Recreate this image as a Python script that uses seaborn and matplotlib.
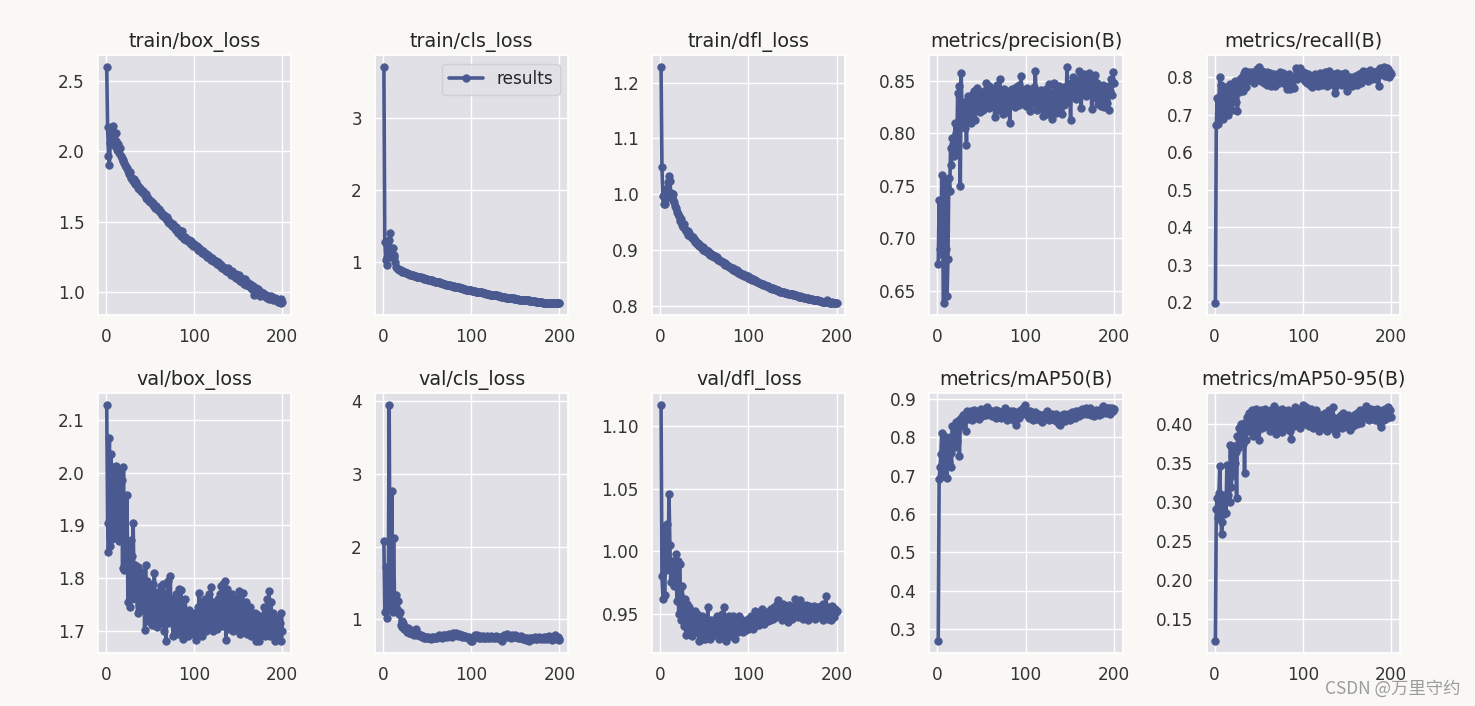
import matplotlib
matplotlib.use("Agg")
import matplotlib.pyplot as plt
import seaborn as sns

# epochs on the x axis
epochs = list(range(1, 201))

train_box_loss = [
    2.60, 2.17, 1.97, 1.90, 2.06, 2.15, 2.11, 2.18, 2.09, 2.04, 2.13, 2.07, 2.01, 2.05, 1.99, 2.02, 1.97, 1.95, 1.93, 1.94,
    1.92, 1.90, 1.89, 1.88, 1.86, 1.84, 1.85, 1.81, 1.82, 1.80, 1.79, 1.80, 1.77, 1.78, 1.76, 1.74, 1.75, 1.73, 1.74, 1.72,
    1.71, 1.72, 1.70, 1.69, 1.70, 1.67, 1.66, 1.67, 1.65, 1.64, 1.65, 1.63, 1.62, 1.63, 1.61, 1.60, 1.61, 1.59, 1.58, 1.59,
    1.57, 1.56, 1.57, 1.55, 1.54, 1.55, 1.53, 1.52, 1.53, 1.51, 1.50, 1.49, 1.50, 1.48, 1.47, 1.48, 1.46, 1.45, 1.46, 1.44,
    1.43, 1.42, 1.44, 1.41, 1.40, 1.43, 1.39, 1.40, 1.38, 1.39, 1.37, 1.38, 1.36, 1.37, 1.35, 1.36, 1.34, 1.35, 1.33, 1.34,
    1.33, 1.32, 1.33, 1.31, 1.30, 1.31, 1.29, 1.30, 1.28, 1.29, 1.27, 1.28, 1.26, 1.27, 1.25, 1.26, 1.24, 1.25, 1.23, 1.24,
    1.23, 1.22, 1.23, 1.21, 1.22, 1.20, 1.21, 1.19, 1.20, 1.18, 1.19, 1.17, 1.18, 1.16, 1.17, 1.15, 1.16, 1.14, 1.17, 1.15,
    1.14, 1.12, 1.15, 1.13, 1.12, 1.11, 1.13, 1.10, 1.11, 1.09, 1.12, 1.08, 1.10, 1.07, 1.09, 1.08, 1.06, 1.09, 1.05, 1.07,
    1.06, 1.04, 1.06, 1.03, 1.05, 1.02, 1.04, 0.98, 1.01, 1.03, 1.00, 1.02, 0.99, 1.01, 0.97, 1.00, 0.98, 0.99, 0.97, 0.98,
    0.97, 0.98, 0.96, 0.97, 0.95, 0.96, 0.97, 0.95, 0.96, 0.94, 0.95, 0.96, 0.94, 0.95, 0.93, 0.94, 0.93, 0.95, 0.92, 0.93,
]

train_cls_loss = [
    3.72, 1.28, 1.02, 1.06, 0.96, 1.12, 1.30, 1.40, 1.16, 1.06, 1.19, 1.10, 1.07, 0.99, 0.93, 0.91, 0.90, 0.89, 0.88, 0.88,
    0.87, 0.86, 0.86, 0.85, 0.85, 0.84, 0.84, 0.83, 0.83, 0.83, 0.82, 0.82, 0.81, 0.81, 0.80, 0.80, 0.80, 0.79, 0.79, 0.79,
    0.78, 0.78, 0.78, 0.77, 0.77, 0.77, 0.76, 0.76, 0.76, 0.76, 0.75, 0.75, 0.74, 0.74, 0.74, 0.73, 0.73, 0.73, 0.72, 0.72,
    0.72, 0.71, 0.71, 0.71, 0.70, 0.70, 0.70, 0.69, 0.69, 0.69, 0.68, 0.68, 0.68, 0.67, 0.67, 0.67, 0.66, 0.66, 0.66, 0.66,
    0.65, 0.65, 0.65, 0.64, 0.64, 0.64, 0.63, 0.63, 0.63, 0.63, 0.62, 0.62, 0.62, 0.61, 0.61, 0.61, 0.61, 0.60, 0.60, 0.60,
    0.59, 0.59, 0.59, 0.59, 0.58, 0.58, 0.58, 0.58, 0.57, 0.57, 0.57, 0.57, 0.56, 0.56, 0.56, 0.56, 0.55, 0.55, 0.55, 0.55,
    0.54, 0.54, 0.54, 0.54, 0.53, 0.53, 0.53, 0.53, 0.53, 0.52, 0.52, 0.52, 0.52, 0.51, 0.51, 0.51, 0.51, 0.51, 0.50, 0.50,
    0.50, 0.50, 0.50, 0.49, 0.49, 0.49, 0.49, 0.49, 0.48, 0.48, 0.48, 0.48, 0.48, 0.47, 0.47, 0.47, 0.47, 0.47, 0.47, 0.46,
    0.46, 0.46, 0.46, 0.46, 0.46, 0.45, 0.45, 0.45, 0.45, 0.45, 0.45, 0.45, 0.44, 0.44, 0.44, 0.44, 0.44, 0.44, 0.44, 0.44,
    0.43, 0.43, 0.43, 0.43, 0.43, 0.43, 0.43, 0.43, 0.42, 0.42, 0.42, 0.43, 0.42, 0.42, 0.42, 0.42, 0.42, 0.42, 0.42, 0.42,
]

train_dfl_loss = [
    1.228, 1.048, 0.997, 0.982, 0.990, 0.983, 1.000, 1.012, 1.022, 1.033, 1.024, 1.002, 0.995, 1.001, 0.990, 0.986, 0.979, 0.975, 0.968, 0.965,
    0.962, 0.958, 0.952, 0.955, 0.945, 0.942, 0.946, 0.938, 0.935, 0.932, 0.934, 0.928, 0.930, 0.925, 0.926, 0.921, 0.923, 0.918, 0.919, 0.915,
    0.914, 0.911, 0.912, 0.908, 0.909, 0.906, 0.904, 0.905, 0.901, 0.902, 0.899, 0.900, 0.897, 0.898, 0.894, 0.895, 0.892, 0.893, 0.890, 0.891,
    0.888, 0.889, 0.886, 0.887, 0.884, 0.882, 0.883, 0.880, 0.881, 0.878, 0.879, 0.876, 0.877, 0.874, 0.873, 0.874, 0.871, 0.870, 0.869, 0.868,
    0.867, 0.868, 0.865, 0.866, 0.863, 0.862, 0.864, 0.860, 0.861, 0.858, 0.859, 0.857, 0.856, 0.857, 0.854, 0.855, 0.853, 0.852, 0.853, 0.851,
    0.850, 0.849, 0.850, 0.847, 0.848, 0.846, 0.845, 0.846, 0.844, 0.843, 0.843, 0.842, 0.841, 0.840, 0.840, 0.839, 0.838, 0.837, 0.837, 0.836,
    0.835, 0.835, 0.834, 0.833, 0.833, 0.832, 0.831, 0.832, 0.830, 0.830, 0.829, 0.828, 0.829, 0.827, 0.827, 0.826, 0.825, 0.826, 0.825, 0.825,
    0.824, 0.824, 0.823, 0.823, 0.822, 0.822, 0.821, 0.822, 0.821, 0.821, 0.820, 0.820, 0.819, 0.819, 0.818, 0.818, 0.817, 0.818, 0.817, 0.817,
    0.816, 0.816, 0.815, 0.815, 0.814, 0.814, 0.814, 0.813, 0.813, 0.813, 0.812, 0.812, 0.811, 0.811, 0.811, 0.810, 0.810, 0.810, 0.810, 0.809,
    0.809, 0.809, 0.808, 0.808, 0.808, 0.808, 0.807, 0.807, 0.810, 0.808, 0.807, 0.806, 0.806, 0.806, 0.807, 0.805, 0.806, 0.805, 0.806, 0.805,
]

precision = [
    0.675, 0.736, 0.690, 0.685, 0.760, 0.700, 0.638, 0.720, 0.755, 0.690, 0.645, 0.680, 0.757, 0.745, 0.786, 0.770, 0.795, 0.790, 0.778, 0.810,
    0.800, 0.780, 0.838, 0.805, 0.845, 0.750, 0.857, 0.820, 0.810, 0.830, 0.805, 0.820, 0.789, 0.825, 0.835, 0.815, 0.828, 0.810, 0.836, 0.822,
    0.830, 0.840, 0.812, 0.835, 0.843, 0.826, 0.832, 0.820, 0.838, 0.829, 0.836, 0.822, 0.840, 0.831, 0.848, 0.827, 0.835, 0.845, 0.824, 0.838,
    0.830, 0.842, 0.826, 0.836, 0.815, 0.839, 0.828, 0.846, 0.822, 0.834, 0.851, 0.829, 0.838, 0.818, 0.835, 0.842, 0.826, 0.837, 0.820, 0.833,
    0.840, 0.810, 0.835, 0.828, 0.842, 0.831, 0.838, 0.825, 0.844, 0.832, 0.836, 0.827, 0.846, 0.830, 0.854, 0.835, 0.829, 0.841, 0.833, 0.838,
    0.826, 0.843, 0.832, 0.837, 0.821, 0.840, 0.830, 0.835, 0.844, 0.828, 0.859, 0.834, 0.822, 0.839, 0.830, 0.836, 0.825, 0.841, 0.831, 0.816,
    0.834, 0.826, 0.842, 0.818, 0.836, 0.829, 0.847, 0.822, 0.838, 0.813, 0.833, 0.848, 0.825, 0.836, 0.819, 0.840, 0.828, 0.845, 0.822, 0.835,
    0.818, 0.838, 0.827, 0.844, 0.830, 0.836, 0.863, 0.832, 0.845, 0.838, 0.812, 0.848, 0.836, 0.853, 0.840, 0.846, 0.832, 0.850, 0.842, 0.837,
    0.859, 0.845, 0.824, 0.850, 0.838, 0.856, 0.842, 0.848, 0.835, 0.852, 0.844, 0.857, 0.838, 0.849, 0.823, 0.846, 0.853, 0.840, 0.855, 0.833,
    0.848, 0.828, 0.844, 0.836, 0.826, 0.840, 0.830, 0.846, 0.825, 0.838, 0.843, 0.829, 0.836, 0.822, 0.845, 0.840, 0.851, 0.836, 0.858, 0.848,
]

recall = [
    0.198, 0.672, 0.745, 0.675, 0.748, 0.800, 0.780, 0.705, 0.735, 0.688, 0.760, 0.720, 0.775, 0.740, 0.700, 0.765, 0.730, 0.782, 0.745, 0.712,
    0.770, 0.755, 0.790, 0.735, 0.778, 0.710, 0.785, 0.760, 0.795, 0.770, 0.800, 0.765, 0.812, 0.790, 0.818, 0.775, 0.805, 0.792, 0.815, 0.798,
    0.808, 0.790, 0.815, 0.800, 0.785, 0.810, 0.796, 0.822, 0.805, 0.828, 0.798, 0.812, 0.790, 0.818, 0.803, 0.786, 0.810, 0.795, 0.815, 0.780,
    0.805, 0.792, 0.812, 0.778, 0.800, 0.788, 0.808, 0.795, 0.776, 0.802, 0.790, 0.810, 0.785, 0.815, 0.798, 0.806, 0.788, 0.812, 0.794, 0.783,
    0.800, 0.770, 0.795, 0.808, 0.785, 0.768, 0.790, 0.780, 0.802, 0.772, 0.798, 0.826, 0.810, 0.795, 0.820, 0.805, 0.826, 0.812, 0.798, 0.815,
    0.805, 0.790, 0.812, 0.798, 0.785, 0.808, 0.795, 0.780, 0.802, 0.790, 0.775, 0.800, 0.788, 0.810, 0.782, 0.797, 0.776, 0.805, 0.790, 0.812,
    0.795, 0.780, 0.808, 0.792, 0.815, 0.786, 0.800, 0.778, 0.805, 0.818, 0.790, 0.810, 0.795, 0.782, 0.808, 0.775, 0.758, 0.790, 0.812, 0.798,
    0.805, 0.788, 0.810, 0.795, 0.780, 0.800, 0.785, 0.812, 0.792, 0.765, 0.775, 0.795, 0.782, 0.800, 0.790, 0.778, 0.798, 0.785, 0.803, 0.792,
    0.780, 0.800, 0.790, 0.808, 0.795, 0.785, 0.805, 0.818, 0.800, 0.812, 0.795, 0.815, 0.802, 0.790, 0.810, 0.820, 0.805, 0.795, 0.812, 0.800,
    0.815, 0.808, 0.795, 0.818, 0.805, 0.778, 0.812, 0.825, 0.808, 0.820, 0.815, 0.828, 0.805, 0.818, 0.826, 0.810, 0.822, 0.800, 0.815, 0.808,
]

val_box_loss = [
    2.128, 1.905, 1.850, 2.065, 1.862, 2.035, 1.875, 2.010, 1.930, 2.000, 1.880, 2.012, 1.945, 1.990, 1.870, 2.005, 1.930, 1.985, 1.820, 2.010,
    1.815, 1.955, 1.820, 1.957, 1.755, 1.870, 1.745, 1.872, 1.760, 1.842, 1.905, 1.770, 1.825, 1.760, 1.810, 1.735, 1.822, 1.750, 1.800, 1.740,
    1.812, 1.760, 1.790, 1.703, 1.825, 1.745, 1.795, 1.720, 1.780, 1.735, 1.772, 1.712, 1.790, 1.740, 1.810, 1.720, 1.765, 1.708, 1.775, 1.730,
    1.760, 1.715, 1.785, 1.735, 1.790, 1.700, 1.770, 1.681, 1.760, 1.795, 1.715, 1.745, 1.805, 1.725, 1.760, 1.690, 1.755, 1.705, 1.770, 1.720,
    1.745, 1.695, 1.780, 1.710, 1.778, 1.700, 1.740, 1.685, 1.735, 1.760, 1.705, 1.725, 1.690, 1.740, 1.710, 1.730, 1.700, 1.720, 1.695, 1.735,
    1.710, 1.684, 1.725, 1.695, 1.745, 1.773, 1.700, 1.755, 1.690, 1.740, 1.715, 1.760, 1.700, 1.730, 1.745, 1.705, 1.770, 1.720, 1.783, 1.710,
    1.745, 1.700, 1.755, 1.725, 1.740, 1.705, 1.760, 1.715, 1.770, 1.735, 1.785, 1.710, 1.790, 1.735, 1.795, 1.684, 1.780, 1.720, 1.760, 1.705,
    1.745, 1.715, 1.770, 1.700, 1.740, 1.725, 1.760, 1.705, 1.750, 1.730, 1.776, 1.695, 1.755, 1.720, 1.773, 1.700, 1.740, 1.715, 1.755, 1.695,
    1.735, 1.710, 1.745, 1.690, 1.730, 1.705, 1.725, 1.700, 1.735, 1.681, 1.720, 1.700, 1.730, 1.681, 1.715, 1.695, 1.725, 1.700, 1.745, 1.690,
    1.740, 1.710, 1.760, 1.700, 1.776, 1.690, 1.755, 1.705, 1.735, 1.695, 1.720, 1.681, 1.710, 1.700, 1.725, 1.690, 1.715, 1.681, 1.735, 1.700,
]

val_cls_loss = [
    2.080, 1.100, 1.720, 1.550, 1.020, 1.350, 3.950, 1.150, 1.250, 2.770, 1.100, 2.120, 1.300, 1.200, 1.330, 1.150, 1.250, 1.080, 1.100, 0.920,
    0.980, 0.900, 0.950, 0.870, 0.900, 0.860, 0.830, 0.880, 0.840, 0.810, 0.820, 0.850, 0.800, 0.830, 0.790, 0.810, 0.870, 0.820, 0.780, 0.800,
    0.790, 0.770, 0.780, 0.760, 0.775, 0.750, 0.765, 0.740, 0.755, 0.745, 0.760, 0.740, 0.750, 0.735, 0.755, 0.745, 0.760, 0.750, 0.740, 0.765,
    0.750, 0.770, 0.755, 0.790, 0.760, 0.775, 0.750, 0.780, 0.765, 0.790, 0.770, 0.760, 0.785, 0.770, 0.800, 0.775, 0.790, 0.765, 0.810, 0.780,
    0.800, 0.785, 0.815, 0.790, 0.775, 0.795, 0.780, 0.770, 0.790, 0.765, 0.775, 0.760, 0.770, 0.755, 0.765, 0.745, 0.760, 0.740, 0.720, 0.700,
    0.710, 0.740, 0.760, 0.780, 0.770, 0.755, 0.780, 0.765, 0.750, 0.770, 0.745, 0.765, 0.775, 0.750, 0.760, 0.740, 0.755, 0.770, 0.750, 0.760,
    0.745, 0.770, 0.755, 0.765, 0.740, 0.760, 0.750, 0.775, 0.755, 0.740, 0.760, 0.745, 0.730, 0.755, 0.710, 0.760, 0.790, 0.775, 0.760, 0.795,
    0.770, 0.780, 0.760, 0.775, 0.750, 0.785, 0.765, 0.770, 0.755, 0.780, 0.760, 0.775, 0.745, 0.765, 0.750, 0.770, 0.740, 0.755, 0.735, 0.750,
    0.740, 0.720, 0.745, 0.730, 0.710, 0.735, 0.750, 0.730, 0.745, 0.725, 0.740, 0.755, 0.735, 0.750, 0.730, 0.745, 0.760, 0.740, 0.725, 0.750,
    0.740, 0.755, 0.730, 0.745, 0.760, 0.735, 0.750, 0.770, 0.745, 0.730, 0.715, 0.740, 0.725, 0.760, 0.780, 0.745, 0.730, 0.755, 0.720, 0.735,
]

val_dfl_loss = [
    1.117, 0.980, 0.962, 1.020, 0.965, 1.012, 0.985, 1.022, 0.990, 1.046, 1.005, 0.975, 0.992, 0.978, 0.988, 0.972, 0.985, 0.998, 0.960, 0.992,
    0.950, 0.990, 0.965, 0.945, 0.972, 0.952, 0.940, 0.962, 0.933, 0.958, 0.945, 0.935, 0.955, 0.940, 0.950, 0.932, 0.948, 0.938, 0.952, 0.942,
    0.935, 0.950, 0.940, 0.928, 0.945, 0.935, 0.948, 0.930, 0.942, 0.938, 0.930, 0.945, 0.935, 0.955, 0.932, 0.940, 0.930, 0.945, 0.937, 0.942,
    0.933, 0.945, 0.938, 0.948, 0.935, 0.942, 0.930, 0.945, 0.938, 0.950, 0.935, 0.955, 0.930, 0.942, 0.928, 0.945, 0.935, 0.948, 0.932, 0.940,
    0.945, 0.935, 0.948, 0.938, 0.930, 0.946, 0.940, 0.935, 0.948, 0.936, 0.942, 0.938, 0.945, 0.935, 0.940, 0.944, 0.937, 0.942, 0.946, 0.938,
    0.944, 0.940, 0.948, 0.942, 0.938, 0.945, 0.952, 0.940, 0.946, 0.943, 0.950, 0.941, 0.947, 0.944, 0.954, 0.945, 0.948, 0.942, 0.950, 0.946,
    0.948, 0.944, 0.952, 0.947, 0.945, 0.954, 0.949, 0.946, 0.955, 0.950, 0.947, 0.958, 0.952, 0.961, 0.948, 0.956, 0.950, 0.945, 0.958, 0.952,
    0.949, 0.955, 0.946, 0.953, 0.943, 0.957, 0.950, 0.954, 0.946, 0.952, 0.948, 0.956, 0.962, 0.950, 0.955, 0.947, 0.958, 0.951, 0.961, 0.948,
    0.953, 0.946, 0.955, 0.950, 0.957, 0.948, 0.952, 0.945, 0.956, 0.950, 0.947, 0.954, 0.949, 0.956, 0.951, 0.946, 0.953, 0.948, 0.955, 0.950,
    0.947, 0.956, 0.950, 0.945, 0.958, 0.952, 0.948, 0.964, 0.950, 0.946, 0.955, 0.949, 0.953, 0.945, 0.956, 0.950, 0.947, 0.954, 0.951, 0.952,
]

map50 = [
    0.268, 0.692, 0.724, 0.757, 0.812, 0.700, 0.745, 0.805, 0.720, 0.760, 0.695, 0.790, 0.735, 0.800, 0.760, 0.722, 0.830, 0.780, 0.810, 0.775,
    0.840, 0.790, 0.825, 0.845, 0.752, 0.830, 0.850, 0.838, 0.858, 0.845, 0.862, 0.818, 0.855, 0.868, 0.848, 0.865, 0.852, 0.870, 0.845, 0.862,
    0.855, 0.872, 0.850, 0.865, 0.858, 0.870, 0.848, 0.866, 0.860, 0.873, 0.855, 0.868, 0.862, 0.875, 0.858, 0.880, 0.866, 0.872, 0.860, 0.868,
    0.864, 0.855, 0.870, 0.858, 0.866, 0.852, 0.872, 0.860, 0.868, 0.855, 0.866, 0.850, 0.862, 0.870, 0.856, 0.865, 0.878, 0.858, 0.845, 0.862,
    0.855, 0.868, 0.848, 0.862, 0.856, 0.870, 0.850, 0.842, 0.832, 0.858, 0.865, 0.850, 0.868, 0.858, 0.872, 0.862, 0.876, 0.868, 0.885, 0.866,
    0.872, 0.858, 0.865, 0.850, 0.868, 0.855, 0.862, 0.845, 0.860, 0.852, 0.866, 0.848, 0.858, 0.862, 0.850, 0.845, 0.858, 0.852, 0.840, 0.856,
    0.848, 0.862, 0.855, 0.868, 0.850, 0.860, 0.845, 0.858, 0.852, 0.862, 0.848, 0.856, 0.845, 0.860, 0.842, 0.855, 0.848, 0.835, 0.832, 0.850,
    0.858, 0.845, 0.862, 0.850, 0.842, 0.858, 0.848, 0.862, 0.855, 0.845, 0.860, 0.852, 0.866, 0.855, 0.862, 0.850, 0.868, 0.858, 0.865, 0.855,
    0.870, 0.860, 0.868, 0.875, 0.862, 0.872, 0.865, 0.878, 0.868, 0.860, 0.872, 0.866, 0.876, 0.858, 0.870, 0.862, 0.868, 0.855, 0.865, 0.872,
    0.860, 0.870, 0.858, 0.866, 0.875, 0.862, 0.870, 0.882, 0.868, 0.875, 0.865, 0.872, 0.878, 0.868, 0.876, 0.862, 0.870, 0.878, 0.868, 0.874,
]

map50_95 = [
    0.122, 0.291, 0.306, 0.280, 0.312, 0.346, 0.295, 0.259, 0.275, 0.310, 0.285, 0.300, 0.286, 0.348, 0.310, 0.330, 0.300, 0.374, 0.320, 0.360,
    0.335, 0.372, 0.350, 0.365, 0.306, 0.385, 0.370, 0.395, 0.380, 0.400, 0.390, 0.375, 0.402, 0.338, 0.395, 0.380, 0.410, 0.392, 0.415, 0.400,
    0.395, 0.418, 0.405, 0.385, 0.412, 0.398, 0.420, 0.390, 0.408, 0.380, 0.415, 0.402, 0.418, 0.395, 0.410, 0.405, 0.420, 0.398, 0.412, 0.400,
    0.415, 0.405, 0.392, 0.418, 0.400, 0.410, 0.424, 0.395, 0.412, 0.388, 0.405, 0.418, 0.398, 0.410, 0.402, 0.420, 0.390, 0.412, 0.400, 0.415,
    0.405, 0.395, 0.418, 0.400, 0.410, 0.392, 0.381, 0.405, 0.415, 0.398, 0.422, 0.408, 0.400, 0.418, 0.402, 0.412, 0.395, 0.420, 0.408, 0.425,
    0.410, 0.418, 0.400, 0.422, 0.405, 0.415, 0.398, 0.412, 0.420, 0.402, 0.410, 0.395, 0.415, 0.405, 0.418, 0.398, 0.408, 0.392, 0.412, 0.405,
    0.400, 0.412, 0.395, 0.408, 0.415, 0.400, 0.410, 0.392, 0.405, 0.418, 0.400, 0.412, 0.395, 0.422, 0.408, 0.398, 0.392, 0.388, 0.402, 0.395,
    0.410, 0.400, 0.412, 0.395, 0.405, 0.415, 0.400, 0.410, 0.398, 0.405, 0.412, 0.395, 0.408, 0.393, 0.400, 0.410, 0.398, 0.412, 0.402, 0.408,
    0.415, 0.400, 0.410, 0.405, 0.418, 0.402, 0.412, 0.408, 0.415, 0.420, 0.410, 0.424, 0.412, 0.418, 0.405, 0.415, 0.420, 0.408, 0.416, 0.410,
    0.418, 0.405, 0.412, 0.420, 0.408, 0.415, 0.402, 0.410, 0.397, 0.412, 0.418, 0.405, 0.420, 0.410, 0.415, 0.408, 0.422, 0.412, 0.418, 0.410,
]

titles = [
    "train/box_loss", "train/cls_loss", "train/dfl_loss", "metrics/precision(B)", "metrics/recall(B)",
    "val/box_loss", "val/cls_loss", "val/dfl_loss", "metrics/mAP50(B)", "metrics/mAP50-95(B)",
]
series = [
    train_box_loss, train_cls_loss, train_dfl_loss, precision, recall,
    val_box_loss, val_cls_loss, val_dfl_loss, map50, map50_95,
]

line_color = "#4a5a90"
fig_bg = "#f9f8f4"
axes_bg = "#e1e0e7"

sns.set_theme(style="darkgrid", rc={"axes.facecolor": axes_bg, "figure.facecolor": fig_bg})
plt.rcParams["font.family"] = ["DejaVu Sans"]

fig, axes = plt.subplots(2, 5, figsize=(14.75, 7.06), dpi=100)
fig.subplots_adjust(left=0.0664, right=0.949, top=0.922, bottom=0.075, wspace=0.435, hspace=0.30)

for i, ax in enumerate(axes.ravel()):
    sns.lineplot(
        x=epochs, y=series[i], ax=ax,
        color=line_color, marker=".", markersize=10.5,
        markeredgecolor=line_color, markerfacecolor=line_color,
        linewidth=2.6, label="results" if i == 1 else None,
    )
    ax.set_title(titles[i], fontsize=13.8, color="#262626")
    ax.tick_params(labelsize=12.2, colors="#333333")
    ax.set_xticks([0, 100, 200])
    if i == 1:
        ax.legend(loc="upper right", fontsize=12.2)
    elif ax.get_legend() is not None:
        ax.get_legend().remove()

# watermark from the source screenshot
fig.text(0.990, 0.025, "CSDN @万里守约", ha="right", va="center", fontsize=12.5,
         color="#9c9c9c", family=["Noto Sans CJK SC", "DejaVu Sans"])

fig.savefig("out.png", dpi=100, facecolor=fig_bg)
